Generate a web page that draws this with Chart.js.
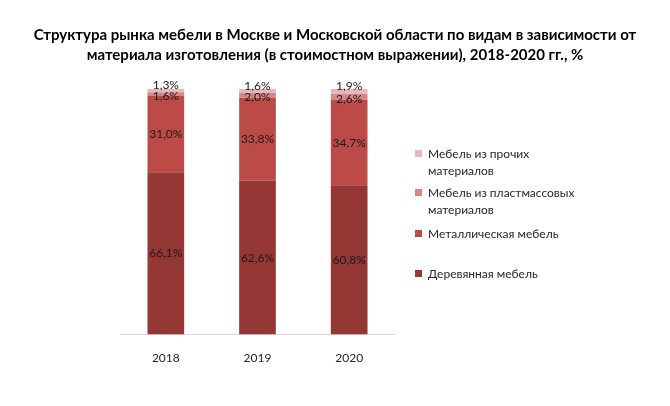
<!DOCTYPE html>
<html>
<head>
<meta charset="utf-8">
<script src="https://cdn.jsdelivr.net/npm/chart.js@4.4.0/dist/chart.umd.min.js"></script>
<style>
  html, body { margin: 0; padding: 0; background: #fff; }
  #wrap { position: relative; width: 670px; height: 406px; }
  #legend { position: absolute; left: 415px; top: 0; font-family: Lato, "Open Sans", sans-serif; font-size: 12px; color: #262626; }
  .item { position: absolute; left: 0; white-space: nowrap; line-height: 17px; }
  .box { position: absolute; left: 0; top: 5px; width: 7px; height: 7px; }
  .txt { position: absolute; left: 13px; top: 0; }
</style>
</head>
<body>
<div id="wrap">
  <canvas id="chart" width="670" height="406"></canvas>
  <div id="legend"></div>
</div>
<script>
const years = ["2018", "2019", "2020"];
const wood = [66.1, 62.6, 60.8];
const metal = [31.0, 33.8, 34.7];
const plastic = [1.6, 2.0, 2.6];
const other = [1.3, 1.6, 1.9];

const seriesNames = ["Деревянная мебель", "Металлическая мебель", "Мебель из пластмассовых материалов", "Мебель из прочих материалов"];
const colors = ["#953735", "#BC4B48", "#D38886", "#E6B9B8"];
const legendLines = [["Деревянная мебель"], ["Металлическая мебель"], ["Мебель из пластмассовых", "материалов"], ["Мебель из прочих", "материалов"]];
const legendTops = [265, 225, 184, 145];
const labelShift = [0, 0, 2, -5]; // сдвиг подписей тонких сегментов
const titleLines = ["Структура рынка мебели в Москве и Московской области по видам в зависимости от", "материала изготовления (в стоимостном выражении), 2018-2020 гг., %"];

var ctx = document.getElementById("chart").getContext("2d");

// заголовок по центру всего холста
const titlePlugin = {
  id: "titlePlugin",
  afterDraw(chart) {
    const c = chart.ctx;
    c.save();
    c.font = "bold 15px Lato, 'Open Sans', sans-serif";
    c.fillStyle = "#000";
    c.textAlign = "center";
    c.textBaseline = "middle";
    titleLines.forEach((t, i) => c.fillText(t, chart.width / 2, 35 + i * 20));
    c.restore();
  }
};

// подписи значений в центре сегментов
const valueLabels = {
  id: "valueLabels",
  afterDatasetsDraw(chart) {
    const c = chart.ctx;
    c.save();
    c.font = "12px Lato, 'Open Sans', sans-serif";
    c.fillStyle = "#1a1a1a";
    c.textAlign = "center";
    c.textBaseline = "middle";
    chart.data.datasets.forEach((ds, i) => {
      chart.getDatasetMeta(i).data.forEach((bar, j) => {
        const y = (bar.y + bar.base) / 2 + labelShift[i];
        c.fillText(ds.data[j].toFixed(1).replace(".", ",") + "%", bar.x, y);
      });
    });
    c.restore();
  }
};

const data = [wood, metal, plastic, other];

new Chart(ctx, {
  type: "bar",
  data: {
    labels: years,
    datasets: data.map((d, i) => ({
      label: seriesNames[i],
      data: d,
      backgroundColor: colors[i],
      borderWidth: 0,
      barPercentage: 0.4,
      categoryPercentage: 1.0,
    })),
  },
  options: {
    responsive: false,
    animation: false,
    layout: { padding: { left: 120, right: 275, top: 89, bottom: 33 } },
    plugins: {
      legend: { display: false },
      tooltip: { enabled: false },
      title: { display: false },
    },
    scales: {
      x: {
        stacked: true,
        grid: { display: false },
        border: { color: "#d9d9d9" },
        ticks: { color: "#262626", font: { family: "Lato, 'Open Sans', sans-serif", size: 12 }, padding: 8 },
      },
      y: {
        stacked: true,
        display: false,
        min: 0,
        max: 100,
      },
    },
  },
  plugins: [valueLabels, titlePlugin],
});

// легенда справа, в обратном порядке
const legend = document.getElementById("legend");
seriesNames.forEach((name, i) => {
  const item = document.createElement("div");
  item.className = "item";
  item.style.top = legendTops[i] + "px";
  item.innerHTML = '<div class="box" style="background:' + colors[i] + '"></div><div class="txt">' + legendLines[i].join("<br>") + "</div>";
  legend.appendChild(item);
});
</script>
</body>
</html>
